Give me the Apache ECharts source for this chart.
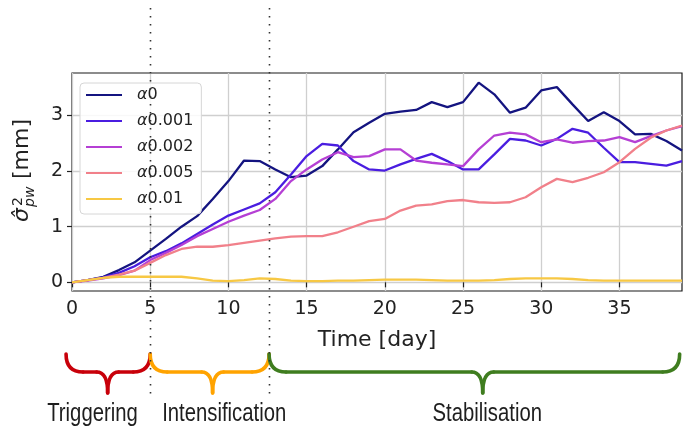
<!DOCTYPE html>
<html><head><meta charset="utf-8">
<script src="https://cdn.jsdelivr.net/npm/echarts@6/dist/echarts.min.js"></script>
<style>html,body{margin:0;padding:0;background:#fff}#c{width:683px;height:432px}</style>
</head><body><div id="c"></div>
<script>
// ---- data ----
const days = [0,1,2,3,4,5,6,7,8,9,10,11,12,13,14,15,16,17,18,19,20,21,22,23,24,25,26,27,28,29,30,31,32,33,34,35,36,37,38,39];
const seriesNames = ['α0','α0.001','α0.002','α0.005','α0.01'];
const alpha0    = [0,0.04,0.10,0.22,0.36,0.57,0.78,1.00,1.19,1.50,1.82,2.19,2.18,2.03,1.89,1.92,2.09,2.39,2.70,2.87,3.03,3.07,3.10,3.24,3.15,3.24,3.59,3.38,3.05,3.14,3.45,3.51,3.20,2.90,3.06,2.90,2.66,2.67,2.54,2.37];
const alpha0001 = [0,0.04,0.09,0.17,0.29,0.45,0.56,0.70,0.87,1.04,1.20,1.31,1.42,1.62,1.94,2.27,2.49,2.46,2.18,2.03,2.01,2.12,2.22,2.31,2.18,2.03,2.03,2.30,2.58,2.55,2.46,2.58,2.76,2.69,2.42,2.16,2.16,2.13,2.10,2.18];
const alpha0002 = [0,0.03,0.07,0.13,0.21,0.40,0.53,0.67,0.83,0.96,1.09,1.20,1.30,1.50,1.82,2.03,2.21,2.34,2.25,2.27,2.39,2.39,2.19,2.15,2.12,2.09,2.39,2.64,2.69,2.66,2.52,2.57,2.51,2.54,2.55,2.61,2.52,2.63,2.73,2.81];
const alpha0005 = [0,0.04,0.08,0.14,0.21,0.35,0.49,0.60,0.64,0.64,0.67,0.71,0.75,0.79,0.82,0.83,0.83,0.90,1.00,1.10,1.14,1.29,1.38,1.40,1.46,1.48,1.44,1.43,1.44,1.53,1.71,1.86,1.80,1.88,1.98,2.16,2.40,2.60,2.73,2.82];
const alpha001  = [0,0.04,0.08,0.10,0.10,0.10,0.10,0.10,0.07,0.03,0.02,0.04,0.07,0.06,0.03,0.02,0.02,0.03,0.03,0.04,0.05,0.05,0.05,0.04,0.03,0.03,0.03,0.04,0.06,0.07,0.07,0.07,0.06,0.04,0.03,0.03,0.03,0.03,0.03,0.03];
const xTicks = [0,5,10,15,20,25,30,35];
const yTicks = [0,1,2,3];
const phaseBounds = [5, 12.6];
const phaseNames = ['Triggering','Intensification','Stabilisation'];
const phaseFrom  = [-0.38, 5, 12.6];
const phaseTo    = [5, 12.6, 38.85];
const phaseTip   = [2.28, 8.99, 26.26];
const phaseLabelAt = [1.31, 9.73, 26.55];
const phaseColors = ['#c8000a','#ffa300','#3f7d1f'];
const colors = ['#141480','#4a1de0','#b53fd4','#f1808a','#f7c844'];

// ---- chart ----
const allSeries = [alpha0, alpha0001, alpha0002, alpha0005, alpha001];
const chart = echarts.init(document.getElementById('c'), null, {renderer:'canvas'});
const F = 'DejaVu Sans';
chart.setOption({
  animation:false,
  backgroundColor:'#fff',
  grid:{left:72, top:73, right:1, bottom:141, show:true, borderColor:'#1a1a1a', borderWidth:1.2},
  xAxis:{type:'value', min:0, max:39, interval:5,
    axisLine:{show:false},
    axisTick:{show:true, customValues:xTicks, length:5, lineStyle:{color:'#222', width:1.2}},
    axisLabel:{customValues:xTicks, margin:9, fontFamily:F, fontSize:19, color:'#222'},
    splitLine:{show:true, lineStyle:{color:'#cfcfcf', width:1.3}},
    name:'Time [day]', nameLocation:'middle', nameGap:38,
    nameTextStyle:{fontFamily:F, fontSize:22, color:'#222'}},
  yAxis:{type:'value', min:-0.156, max:3.764,
    axisLine:{show:false},
    axisTick:{show:true, customValues:yTicks, length:5, lineStyle:{color:'#222', width:1.2}},
    axisLabel:{customValues:yTicks, margin:9, fontFamily:F, fontSize:19, color:'#222'},
    splitLine:{show:true, lineStyle:{color:'#cfcfcf', width:1.3}}},
  legend:{data:seriesNames, orient:'vertical', left:80, top:83, icon:'rect',
    itemWidth:36, itemHeight:2.2, itemGap:10,
    padding:[4,8,7,6], borderColor:'#d6d6d6', borderWidth:1, borderRadius:4,
    backgroundColor:'rgba(255,255,255,0.85)',
    formatter: n => '{a|α}{b|' + n.slice(1) + '}',
    textStyle:{padding:[0,0,0,10], rich:{
      a:{fontFamily:F, fontStyle:'italic', fontSize:16, color:'#222', lineHeight:19},
      b:{fontFamily:F, fontSize:16, color:'#222', lineHeight:19}}}},
  series: allSeries.map((arr,i)=>({
    name:seriesNames[i], type:'line', symbol:'none', showSymbol:false,
    data: days.map((d,j)=>[d, arr[j]]),
    lineStyle:{width:2.3, color:colors[i]}, itemStyle:{color:colors[i]}, z:2+i
  }))
});

// ---- annotations ----
const px = d => chart.convertToPixel({gridIndex:0}, [d, 0])[0];
const g = [];
// y axis label
g.push({type:'group', x:22, y:170, rotation:Math.PI/2, z:20, children:[
  {type:'text', x:-52, y:0, style:{text:'σ\u0302', font:'italic 22px "DejaVu Sans"', fill:'#222', textAlign:'left', textVerticalAlign:'middle'}},
  {type:'text', x:-36, y:-4, style:{text:'2', font:'14px "DejaVu Sans"', fill:'#222', textAlign:'left', textVerticalAlign:'middle'}},
  {type:'text', x:-37, y:8, style:{text:'pw', font:'italic 14px "DejaVu Sans"', fill:'#222', textAlign:'left', textVerticalAlign:'middle'}},
  {type:'text', x:-9, y:0, style:{text:'[mm]', font:'22px "DejaVu Sans"', fill:'#222', textAlign:'left', textVerticalAlign:'middle'}}
]});
// dotted phase boundaries
phaseBounds.forEach(b=>{
  const x = Math.round(px(b)) + 0.5;
  g.push({type:'line', z:30, shape:{x1:x, y1:8, x2:x, y2:394},
    style:{stroke:'#333', lineWidth:1.6, lineDash:[1.6,6.4]}});
});
// braces and phase labels
phaseNames.forEach((name,i)=>{
  const x0 = px(phaseFrom[i]), x1 = px(phaseTo[i]), xm = px(phaseTip[i]);
  const yT = 354, yH = 372, yB = 393, r = 17, rm = 11;
  const st = {stroke:phaseColors[i], lineWidth:3.6, fill:null, lineCap:'round'};
  const curves = [
    [x0,yT, x0+r,yH, x0,yH],
    [xm-rm,yH, xm,yB, xm,yH],
    [xm,yB, xm+rm,yH, xm,yH],
    [x1-r,yH, x1,yT, x1,yH]
  ];
  curves.forEach(c=>g.push({type:'bezierCurve', z:25,
    shape:{x1:c[0], y1:c[1], x2:c[2], y2:c[3], cpx1:c[4], cpy1:c[5]}, style:st}));
  g.push({type:'line', z:25, shape:{x1:x0+r, y1:yH, x2:xm-rm, y2:yH}, style:st});
  g.push({type:'line', z:25, shape:{x1:xm+rm, y1:yH, x2:x1-r, y2:yH}, style:st});
  g.push({type:'text', z:25, x:px(phaseLabelAt[i]), y:414, scaleX:0.78,
    style:{text:name, font:'26px "Liberation Sans"', fill:'#1e1e1e', textAlign:'center', textVerticalAlign:'middle'}});
});
chart.setOption({graphic:g});
</script></body></html>
